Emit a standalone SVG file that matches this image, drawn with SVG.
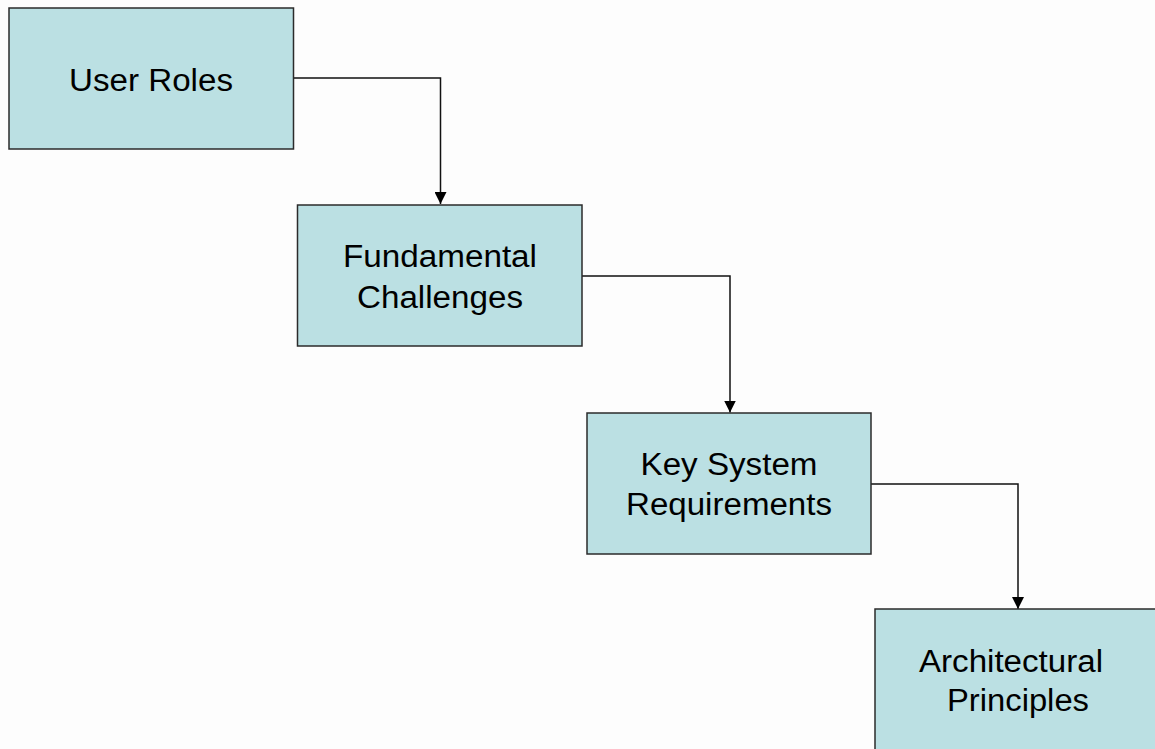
<svg xmlns="http://www.w3.org/2000/svg" width="1155" height="749" viewBox="0 0 1155 749">
  <style>
    .box { fill: #BBE0E3; stroke: #2b2b2b; stroke-width: 1.5; }
    .label { font-family: "Liberation Sans", Arial, sans-serif; font-size: 31px; fill: #000; text-anchor: middle; }
    .conn { fill: none; stroke: #111; stroke-width: 1.5; }
  </style>
  <defs>
    <marker id="arrow" viewBox="0 0 12 12" refX="12" refY="6" markerWidth="12" markerHeight="12" markerUnits="userSpaceOnUse" orient="auto">
      <path d="M0,0 L12,6 L0,12 Z" fill="#000"/>
    </marker>
  </defs>
  <rect x="0" y="0" width="1155" height="749" fill="#FDFDFD"/>

  <g id="connectors">
    <path class="conn" d="M293.5,78 H440.5 V204" marker-end="url(#arrow)"/>
    <path class="conn" d="M582,276 H730 V412.5" marker-end="url(#arrow)"/>
    <path class="conn" d="M871,484 H1018 V609" marker-end="url(#arrow)"/>
  </g>

  <g id="user-roles">
    <rect class="box" x="9" y="8" width="284.5" height="141"/>
    <text class="label" x="151" y="91" textLength="164" lengthAdjust="spacingAndGlyphs">User Roles</text>
  </g>

  <g id="fundamental-challenges">
    <rect class="box" x="297.5" y="205" width="284.5" height="141"/>
    <text class="label" x="440" y="267" textLength="194" lengthAdjust="spacingAndGlyphs">Fundamental</text>
    <text class="label" x="440" y="308" textLength="166" lengthAdjust="spacingAndGlyphs">Challenges</text>
  </g>

  <g id="key-system-requirements">
    <rect class="box" x="587" y="413" width="284" height="141"/>
    <text class="label" x="729" y="475" textLength="177" lengthAdjust="spacingAndGlyphs">Key System</text>
    <text class="label" x="729" y="515" textLength="206" lengthAdjust="spacingAndGlyphs">Requirements</text>
  </g>

  <g id="architectural-principles">
    <rect class="box" x="875" y="609" width="284" height="145"/>
    <text class="label" x="1011" y="672" textLength="184" lengthAdjust="spacingAndGlyphs">Architectural</text>
    <text class="label" x="1018" y="711" textLength="142" lengthAdjust="spacingAndGlyphs">Principles</text>
  </g>
</svg>
